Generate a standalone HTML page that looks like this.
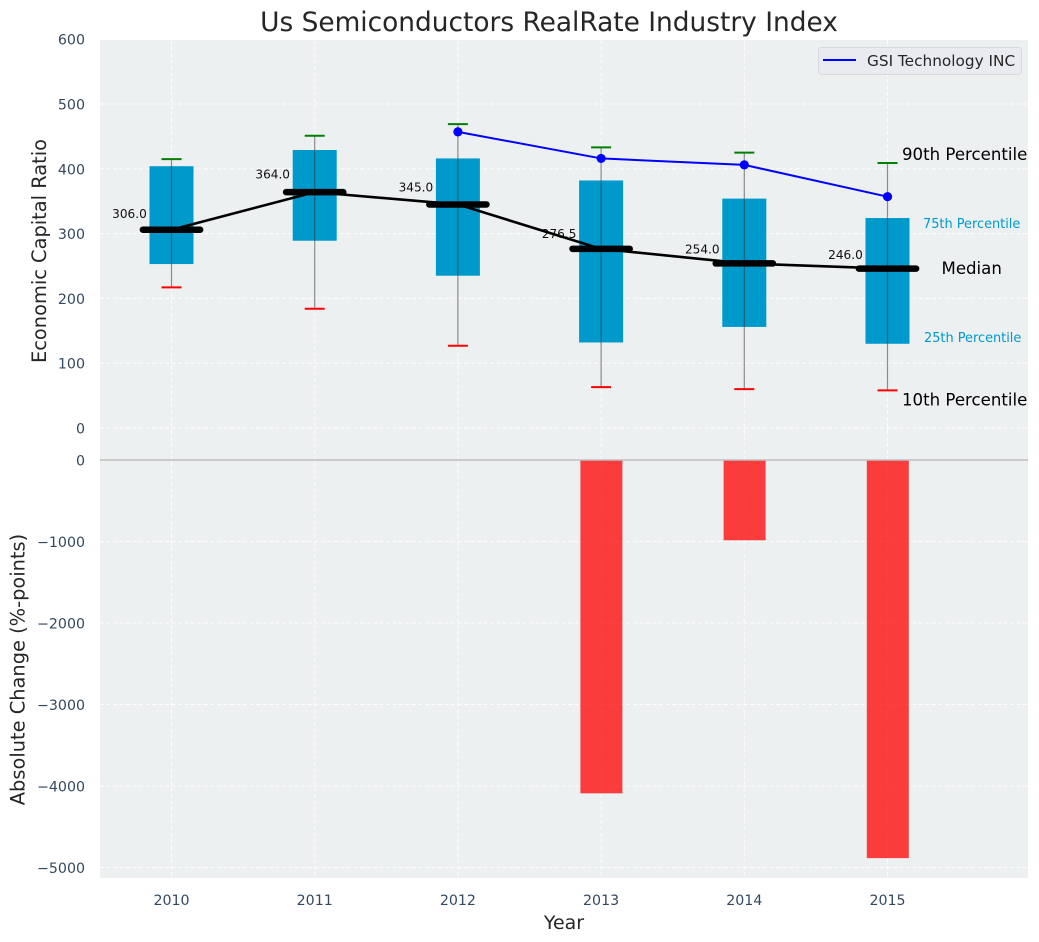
<!DOCTYPE html>
<html lang="en">
<head>
<meta charset="utf-8">
<title>Us Semiconductors RealRate Industry Index</title>
<style>
html,body{margin:0;padding:0;background:#fff;width:1039px;height:942px;overflow:hidden}
svg{display:block;font-family:"DejaVu Sans","Liberation Sans",sans-serif}
</style>
</head>
<body>
<svg id="chart" width="1039" height="942" viewBox="0 0 1039 942" xmlns="http://www.w3.org/2000/svg">
  <rect x="100" y="40" width="928" height="838" fill="#ecf0f1"/>
  <g id="grid"></g>
  <g id="bars"></g>
  <g id="boxes"></g>
  <g id="labels"></g>
  <g id="lines"></g>
  <g id="ticks"></g>
  <g id="annotations"></g>
  <text x="549" y="31" text-anchor="middle" font-size="26.4px" fill="#262626">Us Semiconductors RealRate Industry Index</text>
  <text transform="translate(46 251) rotate(-90)" text-anchor="middle" font-size="19.4px" fill="#262626">Economic Capital Ratio</text>
  <text transform="translate(24.5 669.5) rotate(-90)" text-anchor="middle" font-size="19.4px" fill="#262626">Absolute Change (%-points)</text>
  <text x="564" y="929" text-anchor="middle" font-size="19px" fill="#262626">Year</text>
  <g>
    <rect x="818.5" y="47.5" width="203" height="27" rx="3" fill="#e9ebf0" stroke="#d6d9dd" stroke-width="1"/>
    <line x1="823" y1="60" x2="856" y2="60" stroke="#0000ff" stroke-width="2"/>
    <text x="867" y="66" font-size="15.3px" fill="#262626">GSI Technology INC</text>
  </g>
</svg>
<script>
const years = [2010, 2011, 2012, 2013, 2014, 2015];
const p90 = [415, 451, 469, 433, 425, 409];
const q3 = [404, 429, 416, 382, 354, 324];
const medians = [306, 364, 345, 276.5, 254, 246];
const q1 = [253, 289, 235, 132, 156, 130];
const p10 = [217, 184, 127, 63, 60, 58];
const medianLabels = ['306.0', '364.0', '345.0', '276.5', '254.0', '246.0'];
const gsiValues = [null, null, 457, 416, 406, 357];
const changes = [0, 0, 0, -4090, -985, -4885];
const topTicks = [0, 100, 200, 300, 400, 500, 600];
const bottomTicks = [0, -1000, -2000, -3000, -4000, -5000];

const NS = 'http://www.w3.org/2000/svg';
const xScale = v => 171.5 + (v - 2010) * 143.2;
const yTop = v => 428 - v * 0.648;
const yBottom = v => 460 - v * 0.0815;

function make(tag, parent, attrs, text) {
  const el = document.createElementNS(NS, tag);
  for (const k in attrs) el.setAttribute(k, attrs[k]);
  if (text !== undefined) el.textContent = text;
  parent.appendChild(el);
  
  return el;
}
const grid = document.getElementById('grid');
const bars = document.getElementById('bars');
const boxes = document.getElementById('boxes');
const labels = document.getElementById('labels');
const lines = document.getElementById('lines');
const ticks = document.getElementById('ticks');
const annotations = document.getElementById('annotations');
const gridStyle = {stroke: '#ffffff', 'stroke-width': 1, 'stroke-dasharray': '4 2.5', opacity: 0.9};
const tickStyle = {'font-size': '14.2px', fill: '#34495e'};

years.forEach(year => {
  const gx = make('line', grid, {x1: xScale(year), x2: xScale(year), y1: 40, y2: 878, ...gridStyle});
  
  const t = make('text', ticks, {x: xScale(year), y: 905, 'text-anchor': 'middle', ...tickStyle}, String(year));
  
});
topTicks.forEach(v => {
  if (v !== 600) {
    const g = make('line', grid, {x1: 100, x2: 1028, y1: yTop(v), y2: yTop(v), ...gridStyle});
    
  }
  const t = make('text', ticks, {x: 85, y: yTop(v) + 5.5, 'text-anchor': 'end', ...tickStyle}, String(v));
  
});
bottomTicks.forEach(v => {
  if (v !== 0) {
    const g = make('line', grid, {x1: 100, x2: 1028, y1: yBottom(v), y2: yBottom(v), ...gridStyle});
    
  }
  const label = v < 0 ? '\u2212' + Math.abs(v) : String(v);
  const t = make('text', ticks, {x: 85, y: yBottom(v) + 5.5, 'text-anchor': 'end', ...tickStyle}, label);
  
});

changes.forEach((v, i) => {
  if (v === 0) return;
  const bar = make('rect', bars, {x: xScale(years[i]) - 20.7, y: yBottom(0), width: 42, height: yBottom(v) - yBottom(0), fill: '#ff0000', 'fill-opacity': 0.75});
  
});
const zero = make('line', bars, {x1: 100, x2: 1028, y1: yBottom(0), y2: yBottom(0), stroke: '#bdbdbd', 'stroke-width': 1.5});


years.forEach((year, i) => {
  const cx = xScale(year);
  const box = make('rect', boxes, {x: cx - 22, y: yTop(q3[i]), width: 44, height: yTop(q1[i]) - yTop(q3[i]), fill: '#0099cc'});
  
  const whisker = make('line', boxes, {x1: cx, x2: cx, y1: yTop(p90[i]), y2: yTop(p10[i]), stroke: '#333333', 'stroke-opacity': 0.55, 'stroke-width': 1.2});
  
  const capHigh = make('line', boxes, {x1: cx - 10, x2: cx + 10, y1: yTop(p90[i]), y2: yTop(p90[i]), stroke: '#008000', 'stroke-width': 2});
  
  const capLow = make('line', boxes, {x1: cx - 10, x2: cx + 10, y1: yTop(p10[i]), y2: yTop(p10[i]), stroke: '#ff0000', 'stroke-width': 2});
  
  const label = make('text', labels, {x: cx - 24.7, y: yTop(medians[i] * 1.055) - 0.8, 'text-anchor': 'end', 'font-size': '12.1px', fill: '#111111'}, medianLabels[i]);
  
});

const medianPts = years.map((y, i) => xScale(y) + ',' + yTop(medians[i])).join(' ');
const medianLine = make('polyline', lines, {points: medianPts, fill: 'none', stroke: '#000000', 'stroke-width': 2.6});

years.forEach((year, i) => {
  const cx = xScale(year);
  const m = make('line', lines, {x1: cx - 28.6, x2: cx + 28.6, y1: yTop(medians[i]), y2: yTop(medians[i]), stroke: '#000000', 'stroke-width': 6.5, 'stroke-linecap': 'round'});
  
});
const gsiPts = years.map((y, i) => gsiValues[i] === null ? null : xScale(y) + ',' + yTop(gsiValues[i])).filter(Boolean).join(' ');
const gsiLine = make('polyline', lines, {points: gsiPts, fill: 'none', stroke: '#0000ff', 'stroke-width': 2});

years.forEach((year, i) => {
  if (gsiValues[i] === null) return;
  const p = make('circle', lines, {cx: xScale(year), cy: yTop(gsiValues[i]), r: 4.6, fill: '#0000ff'});
  
});

const last = years.length - 1;
const lastX = xScale(years[last]);
const a90 = make('text', annotations, {x: lastX + 14.5, y: yTop(p90[last]) - 3, 'font-size': '16.6px', fill: '#000000'}, '90th Percentile');

const a75 = make('text', annotations, {x: lastX + 35.5, y: yTop(q3[last]) + 10, 'font-size': '12.9px', fill: '#0099cc'}, '75th Percentile');

const aMed = make('text', annotations, {x: lastX + 54, y: yTop(medians[last]) + 5.5, 'font-size': '16.6px', fill: '#000000'}, 'Median');

const a25 = make('text', annotations, {x: lastX + 36.5, y: yTop(q1[last]) - 2, 'font-size': '12.9px', fill: '#0099cc'}, '25th Percentile');

const a10 = make('text', annotations, {x: lastX + 14.5, y: yTop(p10[last]) + 15, 'font-size': '16.6px', fill: '#000000'}, '10th Percentile');

</script>
</body>
</html>
